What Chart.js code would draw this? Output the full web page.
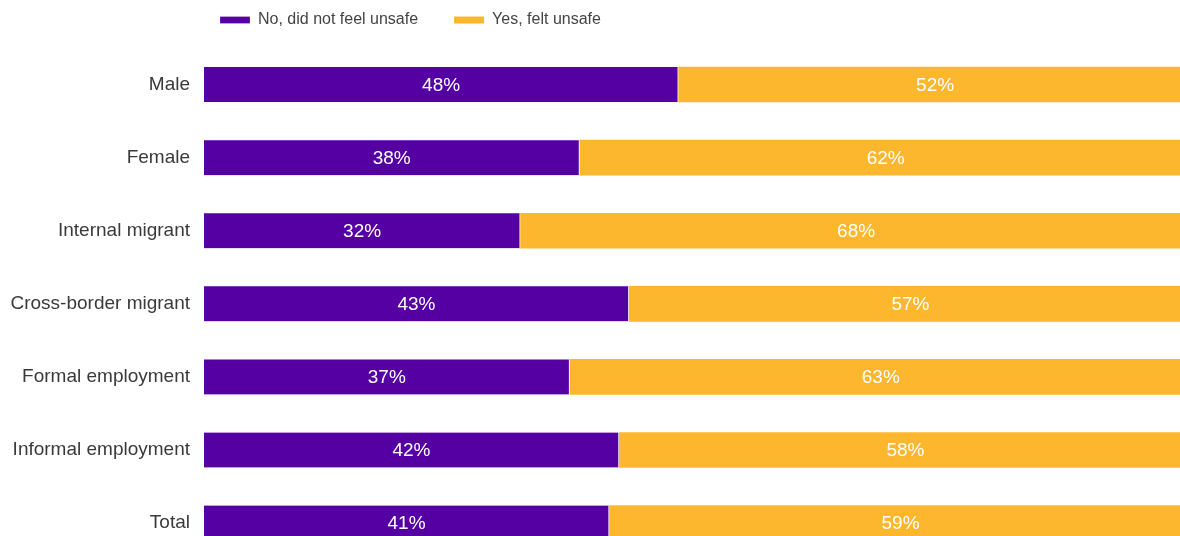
<!DOCTYPE html>
<html>
<head>
<meta charset="utf-8">
<script src="https://cdn.jsdelivr.net/npm/chart.js@4/dist/chart.umd.min.js"></script>
<style>
  html, body { margin: 0; padding: 0; background: #fff; overflow: hidden; }
  canvas { display: block; }
</style>
</head>
<body>
<canvas id="chart" width="1192" height="577"></canvas>
<script>
const groups = [
  "Male",
  "Female",
  "Internal migrant",
  "Cross-border migrant",
  "Formal employment",
  "Informal employment",
  "Total",
];
const notUnsafe = [48, 38, 32, 43, 37, 42, 41];
const feltUnsafe = [52, 62, 68, 57, 63, 58, 59];

const FONT = '"Liberation Sans", Arial, sans-serif';

// write the % value in the middle of each bar segment
const barLabels = {
  id: "barLabels",
  afterDatasetsDraw(chart) {
    const ctx = chart.ctx;
    ctx.save();
    ctx.font = "19px " + FONT;
    ctx.fillStyle = "#fff";
    ctx.textAlign = "center";
    ctx.textBaseline = "middle";
    chart.data.datasets.forEach((ds, i) => {
      chart.getDatasetMeta(i).data.forEach((bar, j) => {
        const c = bar.getCenterPoint();
        ctx.fillText(ds.data[j] + "%", c.x, c.y + 1);
      });
    });
    ctx.restore();
  },
};

// legend sits over the left part of the plot, with room under it
const legendPlace = {
  id: "legendPlace",
  beforeLayout(chart) {
    const lg = chart.legend;
    if (!lg || lg._patched) return;
    const fit = lg.fit;
    lg.fit = function () {
      fit.call(this);
      this.height = 48;
    };
    lg._patched = true;
  },
  afterLayout(chart) {
    const lg = chart.legend;
    const pad = lg.options.labels.padding;
    lg.left = 220 - pad;
    lg.top = 20 - pad - 8;
  },
};

new Chart(document.getElementById("chart"), {
  type: "bar",
  data: {
    labels: groups,
    datasets: [
      {
        label: "No, did not feel unsafe",
        data: notUnsafe,
        backgroundColor: "#5500a2",
        borderColor: "#fff",
        borderWidth: { right: 1 },
        borderSkipped: false,
        barThickness: 35,
      },
      {
        label: "Yes, felt unsafe",
        data: feltUnsafe,
        backgroundColor: "#fdb72f",
        borderColor: "#fff",
        borderWidth: 0,
        barThickness: 35,
      },
    ],
  },
  options: {
    indexAxis: "y",
    responsive: false,
    animation: false,
    layout: { padding: 0 },
    scales: {
      x: { stacked: true, min: 0, max: 100, display: false },
      y: {
        stacked: true,
        grid: { display: false },
        border: { display: false },
        ticks: { color: "#3a3a3a", font: { family: FONT, size: 19 }, padding: 6 },
        afterFit(s) {
          s.width = 204;
        },
      },
    },
    plugins: {
      tooltip: { enabled: false },
      legend: {
        position: "top",
        align: "start",
        labels: {
          boxWidth: 30,
          boxHeight: 7,
          padding: 36,
          color: "#444",
          font: { family: FONT, size: 16 },
        },
      },
    },
  },
  plugins: [barLabels, legendPlace],
});
</script>
</body>
</html>
